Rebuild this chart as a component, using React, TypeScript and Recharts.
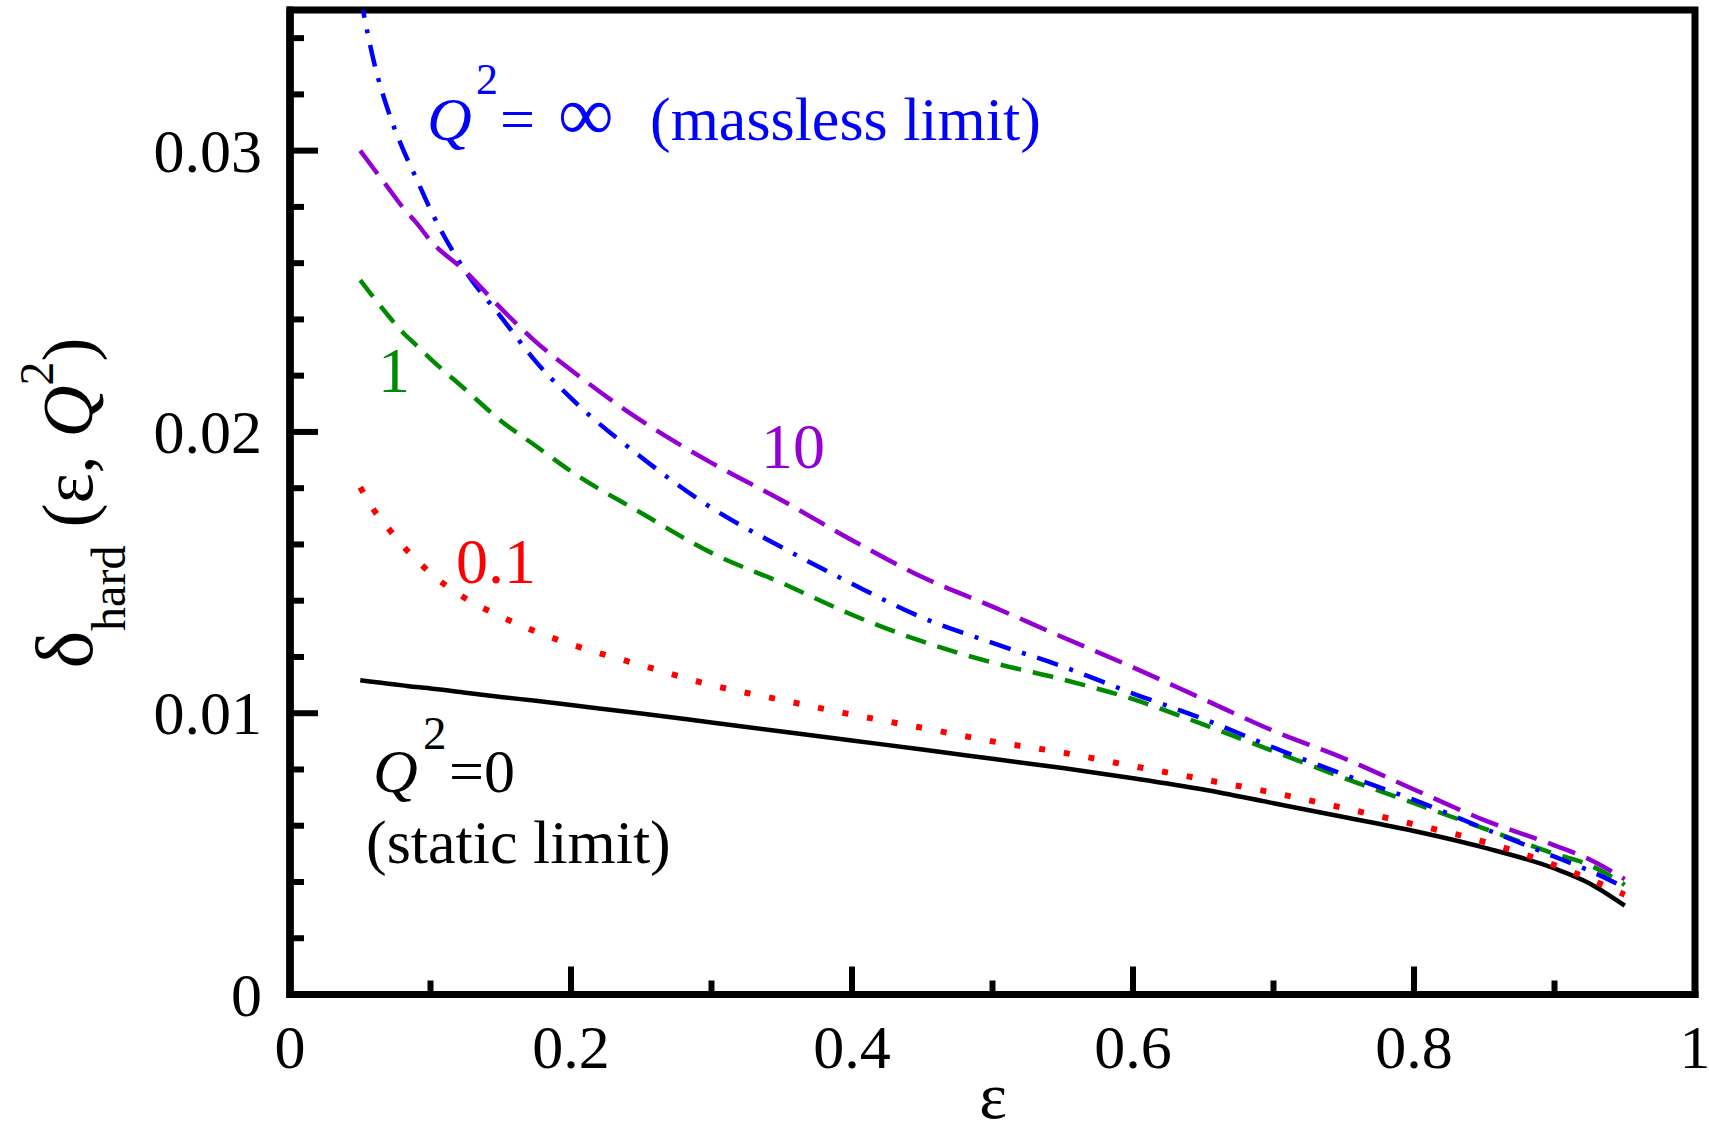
import React from "react";
import { LineChart, Line, XAxis, YAxis, ReferenceArea, ReferenceLine } from "recharts";

// epsilon grid shared by all curves
const eps = [
  0.05, 0.06, 0.07, 0.08, 0.09, 0.1, 0.125, 0.15, 0.175, 0.2, 0.25, 0.3, 0.35,
  0.4, 0.45, 0.5, 0.55, 0.6, 0.65, 0.7, 0.75, 0.8, 0.85, 0.9, 0.925, 0.95,
];

// delta_hard(eps, Q^2) for each Q^2
const q2Static = [
  0.01117, 0.01111, 0.01105, 0.01099, 0.01093, 0.01088, 0.01073, 0.01058,
  0.01044, 0.01029, 0.00999, 0.00967, 0.00935, 0.00903, 0.00871, 0.00838,
  0.00805, 0.00769, 0.00729, 0.0068, 0.00631, 0.00581, 0.00522, 0.00448,
  0.00395, 0.00316,
];
const q2Tenth = [
  0.01803, 0.0172, 0.01657, 0.01597, 0.01545, 0.01498, 0.01408, 0.01344,
  0.0129, 0.01245, 0.01171, 0.011, 0.01047, 0.00995, 0.00948, 0.009, 0.0086,
  0.00812, 0.00765, 0.00717, 0.00663, 0.00605, 0.00543, 0.0046, 0.0041,
  0.00355,
];
const q2One = [
  0.0254, 0.02475, 0.02413, 0.02355, 0.02308, 0.0226, 0.0215, 0.0204, 0.0195,
  0.0186, 0.01712, 0.0157, 0.01463, 0.0135, 0.01255, 0.0118, 0.0112, 0.0105,
  0.0096, 0.00865, 0.0077, 0.0068, 0.0059, 0.005, 0.0046, 0.0039,
];
const q2Ten = [
  0.03, 0.02933, 0.02867, 0.028, 0.02743, 0.0268, 0.0257, 0.0244, 0.0232,
  0.0222, 0.0204, 0.0189, 0.01757, 0.01615, 0.01484, 0.01379, 0.0127,
  0.01163, 0.0105, 0.00937, 0.0084, 0.00729, 0.0062, 0.0053, 0.0048, 0.0041,
];
const q2Inf = [
  0.0355, 0.0331, 0.0314, 0.0301, 0.029, 0.0279, 0.0257, 0.0241, 0.0225,
  0.0212, 0.0191, 0.0173, 0.0159, 0.0146, 0.0134, 0.0125, 0.01166, 0.0107,
  0.0098, 0.00878, 0.00782, 0.00692, 0.0059, 0.0049, 0.0044, 0.0038,
];

const xTicks = [0, 0.1, 0.2, 0.3, 0.4, 0.5, 0.6, 0.7, 0.8, 0.9, 1];
const xLabelled = [0, 0.2, 0.4, 0.6, 0.8, 1];
const yTicks = [
  0, 0.002, 0.004, 0.006, 0.008, 0.01, 0.012, 0.014, 0.016, 0.018, 0.02,
  0.022, 0.024, 0.026, 0.028, 0.03, 0.032, 0.034,
];
const yLabelled = [0, 0.01, 0.02, 0.03];

const data = eps.map((e, i) => ({
  eps: e,
  zero: q2Static[i],
  tenth: q2Tenth[i],
  one: q2One[i],
  ten: q2Ten[i],
  inf: q2Inf[i],
}));

const FONT = '"Liberation Serif", "Times New Roman", Times, serif';
const FS = 62;

const isLabelled = (list: number[], v: number) =>
  list.some((t) => Math.abs(t - v) < 1e-9);

// ticks point inward; long ones carry labels
function makeTick(side: "left" | "right" | "top" | "bottom") {
  return (props: any) => {
    const { x, y, payload } = props;
    const v = payload.value as number;
    const vertical = side === "left" || side === "right";
    const major = isLabelled(vertical ? yLabelled : xLabelled, v);
    const len = major ? 28 : 14;
    let x2 = x;
    let y2 = y;
    if (side === "left") x2 = x + len;
    if (side === "right") x2 = x - len;
    if (side === "bottom") y2 = y - len;
    if (side === "top") y2 = y + len;
    return (
      <g>
        <line x1={x} y1={y} x2={x2} y2={y2} stroke="#000" strokeWidth={6} />
        {major && side === "left" && (
          <text x={x - 28} y={y + 21} textAnchor="end" fontFamily={FONT} fontSize={FS} fill="#000">
            {String(v)}
          </text>
        )}
        {major && side === "bottom" && (
          <text x={x} y={y + 73} textAnchor="middle" fontFamily={FONT} fontSize={FS} fill="#000">
            {String(v)}
          </text>
        )}
      </g>
    );
  };
}

const axisLine = { stroke: "#000", strokeWidth: 7, strokeLinecap: "square" as const };

export default function App() {
  return (
    <div style={{ position: "absolute", left: 0, top: 0, width: 1709, height: 1133, background: "#fff" }}>
      <LineChart
        width={1709}
        height={1133}
        data={data}
        margin={{ top: 10, right: 14, bottom: 0, left: 0 }}
      >
        <XAxis
          xAxisId="bottom"
          dataKey="eps"
          type="number"
          domain={[0, 1]}
          ticks={xTicks}
          interval={0}
          height={138.5}
          tickSize={0}
          tickMargin={0}
          tickLine={false}
          stroke="#000"
          strokeWidth={7}
          axisLine={axisLine}
          tick={makeTick("bottom")}
          allowDataOverflow
        />
        <XAxis
          xAxisId="top"
          orientation="top"
          dataKey="eps"
          type="number"
          domain={[0, 1]}
          ticks={xTicks}
          interval={0}
          height={0}
          tickSize={0}
          tickMargin={0}
          tickLine={false}
          stroke="#000"
          strokeWidth={7}
          axisLine={axisLine}
          tick={makeTick("top")}
          allowDataOverflow
        />
        <YAxis
          yAxisId="left"
          type="number"
          domain={[0, 0.035]}
          ticks={yTicks}
          interval={0}
          width={290}
          tickSize={0}
          tickMargin={0}
          tickLine={false}
          stroke="#000"
          strokeWidth={7}
          axisLine={axisLine}
          tick={makeTick("left")}
          allowDataOverflow
        />
        <YAxis
          yAxisId="right"
          orientation="right"
          type="number"
          domain={[0, 0.035]}
          ticks={yTicks}
          interval={0}
          width={0}
          tickSize={0}
          tickMargin={0}
          tickLine={false}
          stroke="#000"
          strokeWidth={7}
          axisLine={axisLine}
          tick={makeTick("right")}
          allowDataOverflow
        />
        {/* plot frame */}
        <ReferenceArea
          xAxisId="bottom"
          yAxisId="left"
          x1={0}
          x2={1}
          y1={0}
          y2={0.035}
          fill="none"
          fillOpacity={0}
          stroke="#000"
          strokeWidth={7}
          strokeOpacity={1}
          ifOverflow="visible"
        />
        <ReferenceLine xAxisId="bottom" yAxisId="left" x={0} stroke="#000" strokeWidth={7} ifOverflow="visible" />
        <ReferenceLine xAxisId="bottom" yAxisId="left" y={0} stroke="#000" strokeWidth={7} ifOverflow="visible" />
        <Line xAxisId="bottom" yAxisId="left" type="monotone" dataKey="zero" stroke="#000000" strokeWidth={4.5} dot={false} activeDot={false} isAnimationActive={false} />
        <Line xAxisId="bottom" yAxisId="left" type="monotone" dataKey="tenth" stroke="#ff0000" strokeWidth={6} strokeDasharray="6 19" dot={false} activeDot={false} isAnimationActive={false} />
        <Line xAxisId="bottom" yAxisId="left" type="monotone" dataKey="one" stroke="#008a00" strokeWidth={4.5} strokeDasharray="21 12" dot={false} activeDot={false} isAnimationActive={false} />
        <Line xAxisId="bottom" yAxisId="left" type="monotone" dataKey="inf" stroke="#0000ff" strokeWidth={4.5} strokeDasharray="22 12 4 12" dot={false} activeDot={false} isAnimationActive={false} />
        <Line xAxisId="bottom" yAxisId="left" type="monotone" dataKey="ten" stroke="#9400d3" strokeWidth={4.5} strokeDasharray="29 12" dot={false} activeDot={false} isAnimationActive={false} />
      </LineChart>

      <svg
        width={1709}
        height={1133}
        style={{ position: "absolute", left: 0, top: 0, pointerEvents: "none" }}
        fontFamily={FONT}
      >
        {/* axis titles */}
        <text x={993} y={1118} textAnchor="middle" fontSize={66} fill="#000">ε</text>
        <text transform="rotate(-90)" x={-503} y={92} textAnchor="middle" fontSize={72} fill="#000">
          <tspan fontSize={80}>δ</tspan>
          <tspan fontSize={48} dy={33}>hard</tspan>
          <tspan dy={-33}> (ε, </tspan>
          <tspan fontStyle="italic">Q</tspan>
          <tspan fontSize={48} dy={-39}>2</tspan>
          <tspan dy={39}>)</tspan>
        </text>

        {/* curve labels */}
        <g fill="#0000ff" fontSize={FS}>
          <text x={427} y={140} fontStyle="italic">Q</text>
          <text x={476} y={94} fontSize={44}>2</text>
          <text x={500} y={140}>=</text>
          <text x={558} y={140} fontSize={78}>∞</text>
          <text x={650} y={140}>(massless limit)</text>
        </g>
        <text x={761} y={468} fontSize={64} fill="#9400d3">10</text>
        <text x={378} y={392} fontSize={64} fill="#008a00">1</text>
        <text x={456} y={583} fontSize={64} fill="#ff0000">0.1</text>
        <g fill="#000" fontSize={FS}>
          <text x={373} y={792} fontStyle="italic">Q</text>
          <text x={423} y={749} fontSize={47}>2</text>
          <text x={449} y={792}>=0</text>
          <text x={366} y={863}>(static limit)</text>
        </g>
      </svg>
    </div>
  );
}
